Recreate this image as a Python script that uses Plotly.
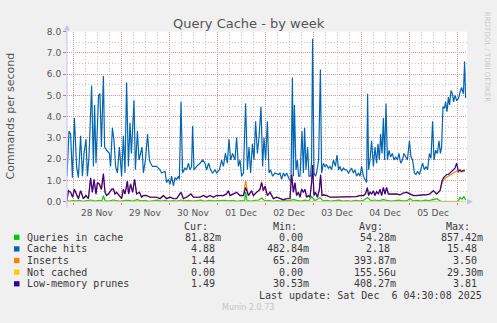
import plotly.graph_objects as go
import pandas as pd

# ---------------- data ----------------
START = pd.Timestamp("2025-11-27 21:00")
RANGE_END = pd.Timestamp("2025-12-06 05:00")

HITS_H = [0.0, 1.0, 1.8, 2.7, 3.7, 4.8, 5.7, 6.8, 7.7, 8.5,
          9.5, 10.2, 11.0, 12.3, 13.2, 13.8, 14.5, 15.2, 15.8, 16.5,
          17.2, 18.2, 18.8, 19.8, 21.2, 21.8, 22.7, 23.5, 24.3, 25.2,
          26.2, 27.3, 28.2, 29.0, 29.8, 30.7, 31.5, 32.2, 33.5, 34.2,
          35.2, 36.0, 36.8, 37.5, 38.2, 39.2, 40.3, 41.2, 41.8, 42.7,
          43.5, 44.8, 46.5, 47.3, 49.0, 49.8, 50.7, 51.5, 52.3, 53.2,
          54.0, 54.8, 55.7, 56.2, 57.0, 57.8, 59.0, 59.8, 60.7, 61.5,
          62.3, 62.8, 63.5, 64.8, 66.5, 67.8, 69.0, 69.8, 70.8, 71.8,
          72.8, 74.0, 74.8, 76.2, 77.3, 78.2, 79.2, 80.2, 81.0, 81.8,
          82.8, 84.0, 84.8, 85.7, 86.5, 87.3, 88.2, 89.3, 90.2, 91.0,
          91.8, 92.7, 93.5, 94.3, 95.2, 96.0, 97.0, 97.8, 98.5, 99.3,
          100.2, 101.0, 101.8, 102.8, 104.0, 105.7, 106.5, 107.3, 108.2, 109.0,
          109.8, 110.7, 111.5, 112.0, 112.7, 113.2, 113.7, 114.5, 115.2, 115.8,
          116.5, 117.5, 118.2, 118.8, 119.5, 120.3, 121.0, 121.8, 122.3, 122.8,
          123.5, 124.2, 124.8, 125.8, 126.7, 127.3, 128.2, 129.0, 129.8, 130.7,
          131.5, 132.3, 133.2, 134.2, 135.0, 135.8, 136.5, 137.3, 138.2, 139.0,
          139.8, 140.7, 141.5, 142.3, 143.2, 144.0, 144.8, 145.7, 146.5, 147.3,
          148.2, 149.2, 149.8, 150.3, 150.8, 151.5, 152.3, 153.2, 154.0, 154.8,
          155.5, 156.2, 156.8, 157.5, 158.2, 158.8, 159.5, 160.2, 161.0, 161.8,
          162.7, 163.5, 164.3, 165.2, 166.0, 166.8, 167.7, 168.5, 169.3, 170.2,
          171.2, 172.0, 172.8, 173.7, 174.5, 175.3, 176.2, 177.0, 177.8, 178.7,
          179.5, 180.3, 181.2, 182.0, 182.8, 183.5, 184.3, 185.2, 186.0, 186.7,
          187.3, 188.0, 188.7, 189.3, 190.0, 190.7, 191.3, 192.0, 192.7, 193.3,
          194.0, 194.8, 195.7, 196.5, 197.3, 198.2, 198.8, 199.3]
HITS_V = [1.20, 3.33, 3.18, 1.13, 3.94, 1.66, 1.13, 3.10, 1.20, 2.27,
          2.95, 1.20, 2.11, 5.46, 1.66, 4.55, 1.81, 4.09, 5.00, 5.08,
          2.57, 5.91, 2.57, 2.42, 2.27, 1.66, 3.48, 2.87, 1.66, 1.35,
          2.57, 1.20, 3.10, 1.35, 5.61, 1.66, 3.71, 2.27, 4.77, 1.50,
          3.33, 1.96, 2.27, 2.57, 1.35, 1.96, 3.18, 1.96, 1.81, 1.66,
          1.66, 1.66, 1.50, 1.35, 1.43, 0.90, 1.05, 0.82, 1.20, 0.74,
          1.13, 1.05, 1.20, 1.05, 4.70, 1.35, 1.58, 1.50, 1.81, 1.50,
          1.66, 3.56, 1.50, 1.66, 1.81, 1.96, 1.81, 1.50, 1.81, 1.50,
          1.35, 1.50, 1.35, 1.50, 1.96, 1.66, 2.27, 1.81, 2.95, 1.96,
          2.27, 1.96, 3.02, 1.66, 1.96, 1.20, 1.35, 4.62, 1.50, 2.57,
          1.35, 2.72, 1.96, 3.78, 2.27, 3.02, 4.47, 1.66, 3.02, 1.96,
          3.78, 1.35, 1.50, 1.20, 1.35, 1.28, 1.35, 1.05, 1.35, 1.20,
          1.35, 1.13, 0.97, 1.05, 5.84, 1.20, 4.55, 1.50, 1.96, 1.20,
          1.20, 3.33, 1.35, 3.48, 1.50, 2.57, 1.20, 1.20, 1.96, 7.66,
          1.35, 1.20, 1.35, 1.96, 6.22, 1.35, 1.81, 1.66, 1.73, 1.58,
          1.66, 1.50, 1.96, 1.66, 2.19, 1.50, 1.66, 1.43, 1.58, 1.50,
          1.50, 1.35, 1.50, 1.58, 1.35, 1.50, 1.20, 1.35, 1.20, 1.66,
          1.20, 1.05, 0.90, 5.08, 1.50, 1.96, 2.87, 1.66, 2.57, 1.81,
          2.72, 1.96, 3.18, 2.27, 3.94, 1.96, 4.62, 1.96, 2.42, 2.11,
          2.27, 1.96, 2.11, 1.96, 2.27, 1.81, 1.96, 2.27, 2.11, 1.96,
          2.87, 2.11, 1.96, 1.35, 1.28, 1.43, 1.28, 1.50, 1.81, 1.50,
          1.66, 1.50, 2.27, 2.04, 3.78, 1.96, 2.42, 2.27, 2.87, 2.27,
          2.57, 4.47, 4.39, 4.70, 4.24, 4.92, 4.55, 5.23, 5.08, 4.70,
          5.00, 4.77, 4.85, 5.15, 5.38, 5.08, 6.60, 4.88]

PRUNE_H = [0.0, 0.7, 1.8, 2.8, 3.7, 4.8, 5.7, 6.8, 8.2, 9.5,
           10.7, 11.8, 12.7, 13.5, 14.5, 15.2, 16.2, 17.2, 18.2, 19.0,
           19.8, 20.7, 22.3, 23.2, 24.0, 24.8, 26.2, 27.3, 28.2, 29.0,
           30.2, 30.8, 31.8, 32.8, 33.8, 34.8, 36.2, 37.3, 38.2, 39.8,
           41.5, 43.2, 44.8, 46.5, 48.2, 49.8, 51.5, 53.2, 54.8, 57.0,
           58.2, 59.8, 62.0, 63.2, 64.8, 66.5, 68.2, 69.8, 71.5, 73.2,
           74.8, 76.5, 78.2, 79.8, 80.7, 81.5, 83.2, 84.8, 86.5, 88.2,
           89.3, 90.7, 92.3, 93.2, 94.8, 96.5, 97.3, 98.2, 99.0, 100.2,
           101.5, 103.2, 104.8, 106.5, 108.2, 109.8, 111.5, 112.3, 113.2, 114.0,
           114.8, 115.7, 116.5, 117.3, 118.2, 119.0, 119.8, 120.7, 121.5, 122.3,
           122.8, 123.5, 124.2, 125.2, 126.2, 126.8, 127.5, 128.2, 129.8, 131.5,
           133.2, 134.8, 136.5, 138.2, 139.8, 141.5, 143.2, 144.8, 146.5, 148.2,
           149.2, 150.2, 150.8, 151.5, 152.3, 153.2, 154.0, 154.8, 155.7, 156.5,
           157.3, 158.2, 159.0, 159.8, 160.7, 161.5, 163.2, 164.8, 166.5, 168.2,
           169.8, 171.5, 173.2, 174.8, 176.5, 178.2, 179.8, 181.5, 182.3, 183.2,
           184.0, 184.8, 185.7, 186.5, 187.5, 188.2, 189.0, 189.8, 190.7, 191.5,
           192.3, 193.2, 194.0, 194.8, 195.7, 196.5, 197.3, 198.2, 199.0]
PRUNE_V = [0.06, 0.52, 0.44, 0.21, 0.59, 0.29, 0.14, 0.52, 0.14, 0.29,
           0.14, 1.12, 0.44, 1.05, 0.36, 0.90, 0.82, 0.59, 1.32, 0.44,
           0.29, 0.36, 0.59, 0.59, 0.36, 0.44, 0.29, 0.14, 0.59, 0.36,
           0.97, 0.36, 0.82, 0.44, 1.05, 0.36, 0.44, 0.21, 0.29, 0.29,
           0.21, 0.21, 0.21, 0.14, 0.29, 0.14, 0.21, 0.14, 0.14, 0.44,
           0.14, 0.21, 0.36, 0.21, 0.21, 0.21, 0.29, 0.21, 0.29, 0.21,
           0.29, 0.29, 0.29, 0.36, 0.52, 0.29, 0.36, 0.44, 0.29, 0.29,
           0.67, 0.29, 0.52, 0.29, 0.44, 0.59, 0.90, 0.52, 0.74, 0.29,
           0.44, 0.14, 0.21, 0.14, 0.09, 0.14, 0.14, 1.28, 0.44, 0.90,
           0.29, 0.44, 0.21, 0.59, 0.44, 0.59, 0.21, 0.29, 0.21, 0.90,
           1.73, 0.29, 0.44, 0.21, 0.59, 1.28, 0.29, 0.32, 0.29, 0.21,
           0.21, 0.24, 0.21, 0.21, 0.21, 0.21, 0.21, 0.24, 0.29, 0.29,
           0.36, 0.67, 0.29, 0.44, 0.36, 0.52, 0.29, 0.47, 0.36, 0.59,
           0.29, 0.67, 0.36, 0.67, 0.36, 0.36, 0.36, 0.36, 0.32, 0.41,
           0.44, 0.36, 0.29, 0.29, 0.32, 0.32, 0.32, 0.36, 0.44, 0.52,
           0.44, 0.36, 0.44, 0.52, 0.97, 1.12, 1.20, 1.28, 1.28, 1.35,
           1.43, 1.50, 1.58, 1.81, 1.43, 1.50, 1.43, 1.47, 1.49]
INSERT_V = [0.08, 0.48, 0.46, 0.22, 0.55, 0.30, 0.15, 0.50, 0.16, 0.30,
            0.15, 1.05, 0.46, 1.00, 0.38, 0.86, 0.85, 0.55, 1.25, 0.46,
            0.30, 0.38, 0.55, 0.62, 0.38, 0.46, 0.30, 0.16, 0.55, 0.38,
            0.92, 0.38, 0.86, 0.46, 1.00, 0.38, 0.46, 0.22, 0.30, 0.30,
            0.22, 0.23, 0.22, 0.16, 0.30, 0.16, 0.22, 0.16, 0.16, 0.46,
            0.16, 0.22, 0.38, 0.22, 0.23, 0.22, 0.30, 0.22, 0.30, 0.22,
            0.30, 0.30, 0.30, 0.38, 0.50, 0.30, 0.38, 0.46, 0.30, 0.30,
            0.97, 0.30, 0.50, 0.30, 0.46, 0.55, 0.95, 0.50, 0.70, 0.30,
            0.46, 0.16, 0.22, 0.16, 0.10, 0.16, 0.16, 1.35, 0.46, 0.86,
            0.30, 0.46, 0.22, 0.55, 0.46, 0.55, 0.22, 0.30, 0.22, 0.86,
            1.65, 0.30, 0.46, 0.22, 0.55, 1.22, 0.30, 0.33, 0.30, 0.22,
            0.22, 0.25, 0.22, 0.22, 0.22, 0.22, 0.22, 0.25, 0.30, 0.30,
            0.38, 0.62, 0.30, 0.46, 0.38, 0.50, 0.30, 0.48, 0.38, 0.55,
            0.30, 0.62, 0.38, 0.62, 0.38, 0.38, 0.38, 0.38, 0.33, 0.42,
            0.46, 0.38, 0.30, 0.30, 0.33, 0.33, 0.33, 0.38, 0.46, 0.50,
            0.46, 0.38, 0.46, 0.50, 0.85, 1.02, 1.10, 1.15, 1.20, 1.25,
            1.30, 1.33, 1.38, 1.45, 1.38, 1.42, 1.40, 1.43, 1.44]

QIC_H = [0, 1.5, 3, 4.5, 6, 8, 10, 12, 14, 16,
         17.5, 18.2, 19, 21, 23, 25, 27, 29, 31, 33,
         35, 37, 39, 41, 43, 45, 47, 49, 51, 53,
         55, 57, 59, 61, 63, 65, 67, 69, 71, 73,
         75, 77, 79, 81, 83, 85, 87, 88.8, 89.3, 90,
         92, 94, 96, 97.3, 99, 101, 103, 105, 107, 109,
         111, 113, 115, 117, 119, 121, 122.3, 124, 126.5, 128,
         130, 132, 134, 136, 138, 140, 142, 144, 146, 148,
         150.2, 152, 154, 156, 158, 160, 162, 164, 166, 168,
         170, 171.5, 173, 175, 177, 179, 181, 183, 185, 186.5,
         187.5, 190, 192, 194, 195.5, 196.5, 197.5, 198.5, 199.3]
QIC_V = [0.05, 0.02, 0.06, 0.03, 0.07, 0.02, 0.05, 0.08, 0.03, 0.06,
         0.04, 0.29, 0.05, 0.03, 0.08, 0.04, 0.02, 0.06, 0.07, 0.03,
         0.10, 0.04, 0.06, 0.02, 0.05, 0.07, 0.03, 0.06, 0.02, 0.05,
         0.03, 0.08, 0.04, 0.06, 0.03, 0.05, 0.07, 0.02, 0.06, 0.04,
         0.05, 0.03, 0.07, 0.04, 0.06, 0.02, 0.05, 0.04, 0.45, 0.05,
         0.03, 0.06, 0.08, 0.17, 0.04, 0.06, 0.02, 0.05, 0.03, 0.06,
         0.04, 0.10, 0.05, 0.03, 0.07, 0.04, 0.24, 0.05, 0.20, 0.04,
         0.06, 0.03, 0.05, 0.07, 0.03, 0.05, 0.02, 0.06, 0.04, 0.05,
         0.20, 0.05, 0.08, 0.04, 0.10, 0.06, 0.03, 0.05, 0.07, 0.04,
         0.05, 0.15, 0.04, 0.06, 0.03, 0.07, 0.05, 0.10, 0.14, 0.04,
         0.0, 0.0, 0.0, 0.0, 0.0, 0.20, 0.12, 0.25, 0.08]

NC_H = [0.0, 199.3]
NC_V = [0.0, 0.0]

SERIES = ["Queries in cache", "Cache hits", "Inserts", "Not cached", "Low-memory prunes"]
COLORS = ["#00CC00", "#0066B3", "#FF8000", "#FFCC00", "#330099"]
CUR = ["81.82m", "4.88", "1.44", "0.00", "1.49"]
MIN = ["0.00", "482.84m", "65.20m", "0.00", "30.53m"]
AVG = ["54.28m", "2.18", "393.87m", "155.56u", "408.27m"]
MAX = ["857.42m", "15.48", "3.50", "29.30m", "3.81"]
Y_TICKS = [0, 1, 2, 3, 4, 5, 6, 7, 8]

# ---------------- figure ----------------
W, H = 497, 323
X0, X1 = 67, 467          # plot area in px
Y_TOP, Y_ZERO = 27.5, 203  # px for 8.0 and 0.0


def t(hs):
    return [START + pd.Timedelta(hours=h) for h in hs]


def px(x):
    return x / W


def py(y):
    return 1 - y / H


fig = go.Figure()
LW = 1.2
fig.add_trace(go.Scatter(x=t(QIC_H), y=QIC_V, mode="lines", line=dict(color=COLORS[0], width=LW)))
fig.add_trace(go.Scatter(x=t(HITS_H), y=HITS_V, mode="lines", line=dict(color=COLORS[1], width=LW)))
fig.add_trace(go.Scatter(x=t(PRUNE_H), y=INSERT_V, mode="lines", line=dict(color=COLORS[2], width=LW)))
fig.add_trace(go.Scatter(x=t(NC_H), y=NC_V, mode="lines", line=dict(color="#E8C08C", width=2)))
fig.add_trace(go.Scatter(x=t(PRUNE_H), y=PRUNE_V, mode="lines", line=dict(color=COLORS[4], width=LW)))

MAJ = "#E28C8C"
MIN_C = "#C8C8C8"
MAJ_DASH = "1px,1px"
MIN_DASH = "1px,2px"
AXC = "#C4C4F4"
TXT = "#555555"

fig.update_layout(
    width=W, height=H,
    margin=dict(l=0, r=0, t=0, b=0),
    paper_bgcolor="#F0F0F0", plot_bgcolor="white",
    showlegend=False,
    font=dict(family="DejaVu Sans", size=9, color=TXT),
    xaxis=dict(
        type="date", domain=[px(X0), px(X1)],
        range=[START, RANGE_END],
        tick0="2025-11-28 00:00", dtick=86400000,
        ticklabelmode="period", tickformat="%d %b",
        showgrid=True, gridcolor=MAJ, griddash=MAJ_DASH, gridwidth=1,
        ticks="outside", ticklen=2, tickcolor="#E07070",
        tickfont=dict(family="DejaVu Sans", size=9, color=TXT),
        minor=dict(dtick=6 * 3600 * 1000, tick0="2025-11-28 00:00", showgrid=True,
                   gridcolor=MIN_C, griddash=MIN_DASH, gridwidth=1, ticks=""),
        showline=False, zeroline=False, fixedrange=True,
    ),
    yaxis=dict(
        domain=[py(Y_ZERO), py(Y_TOP)], range=[0, 8],
        tickvals=Y_TICKS, ticktext=[f"{v:.1f}" for v in Y_TICKS],
        showgrid=True, gridcolor=MAJ, griddash=MAJ_DASH, gridwidth=1,
        ticks="outside", ticklen=3, tickcolor="#E07070",
        tickfont=dict(family="DejaVu Sans", size=9, color=TXT),
        minor=dict(tickvals=[0.5, 1.5, 2.5, 3.5, 4.5, 5.5, 6.5, 7.5], showgrid=True,
                   gridcolor=MIN_C, griddash=MIN_DASH, gridwidth=1, ticks=""),
        showline=False, zeroline=False, fixedrange=True,
    ),
)

shapes = []
ann = []
# axis arrows
ann.append(dict(xref="paper", yref="paper", x=px(X0), y=py(20), ax=0, ay=Y_ZERO + 2 - 20,
                text="", showarrow=True, arrowhead=2, arrowsize=1.2, arrowwidth=1, arrowcolor=AXC))
ann.append(dict(xref="paper", yref="paper", x=px(473), y=py(Y_ZERO), ax=-(473 - 465.5), ay=0,
                text="", showarrow=True, arrowhead=2, arrowsize=1.2, arrowwidth=1, arrowcolor=AXC))

# title, axis title, side text
ann.append(dict(xref="paper", yref="paper", x=px(248.7), y=py(19.3), text="Query Cache - by week",
                showarrow=False, xanchor="center", yanchor="middle",
                font=dict(family="DejaVu Sans", size=13, color=TXT)))
ann.append(dict(xref="paper", yref="paper", x=px(10.7), y=py(114.3), text="Commands per second",
                showarrow=False, xanchor="center", yanchor="middle", textangle=-90,
                font=dict(family="DejaVu Sans", size=11, color=TXT)))
ann.append(dict(xref="paper", yref="paper", x=px(487), y=py(53.5), text="RRDTOOL / TOBI OETIKER",
                showarrow=False, xanchor="center", yanchor="middle", textangle=90,
                font=dict(family="DejaVu Sans", size=7, color="#C8C8C8")))

MONO = dict(family="DejaVu Sans Mono", size=10, color="#3A3A3A")
CW = 6.0

def cell(x, y, text, anchor):
    ann.append(dict(xref="paper", yref="paper", x=px(x), y=py(y), text=text, showarrow=False,
                    xanchor=anchor, yanchor="middle", font=MONO, borderpad=0, borderwidth=0))

HEAD_Y = 228.3
for name, xr in [("Cur:", 208.3), ("Min:", 296.7), ("Avg:", 382.7), ("Max:", 470.0)]:
    cell(xr, HEAD_Y, name, "right")

ROWS_Y = [239.7, 251.7, 263.7, 275.7, 287.7]
COLS = [(CUR, 215.0), (MIN, 303.0), (AVG, 389.5), (MAX, 477.0)]
for i, name in enumerate(SERIES):
    yc = ROWS_Y[i]
    shapes.append(dict(type="rect", xref="paper", yref="paper",
                       x0=px(14), x1=px(19.5), y0=py(yc + 2.7), y1=py(yc - 2.7),
                       fillcolor=COLORS[i], line=dict(width=0)))
    cell(26.7, yc, name, "left")
    for vals, xr in COLS:
        v = vals[i]
        has_suffix = v[-1].isalpha()
        cell(xr + (CW if has_suffix else 0), yc, v, "right")

cell(482.3, 299.7, "Last update: Sat Dec\u00a0\u00a06 04:30:08 2025", "right")
ann.append(dict(xref="paper", yref="paper", x=px(248), y=py(312.3), text="Munin 2.0.73",
                showarrow=False, xanchor="center", yanchor="middle",
                font=dict(family="DejaVu Sans", size=8, color="#C4C4C4")))

fig.update_layout(shapes=shapes, annotations=ann)
fig.write_html("out.html")
